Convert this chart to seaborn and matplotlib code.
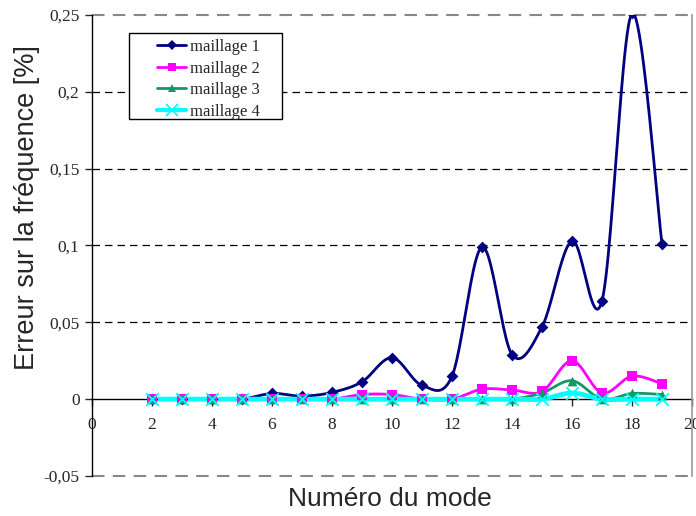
import numpy as np
import pandas as pd
import matplotlib
matplotlib.use("Agg")
import matplotlib.pyplot as plt
from matplotlib.lines import Line2D
from matplotlib.patches import Rectangle
import seaborn as sns

modes = [2, 3, 4, 5, 6, 7, 8, 9, 10, 11, 12, 13, 14, 15, 16, 17, 18, 19]
maillage1 = [0, 0, 0, 0, 0.0037, 0.002, 0.0044, 0.0113, 0.027, 0.009, 0.015, 0.099, 0.029, 0.047, 0.103, 0.064, 0.251, 0.101]
maillage2 = [0, 0, 0, 0, 0, 0, 0, 0.003, 0.003, 0, 0, 0.0065, 0.006, 0.005, 0.025, 0.004, 0.015, 0.010]
maillage3 = [0, 0, 0, 0, 0, 0, 0, 0, 0, 0, 0, 0, 0, 0.004, 0.012, 0, 0.0037, 0.003]
maillage4 = [0, 0, 0, 0, 0, 0, 0, 0, 0, 0, 0, 0, 0, 0, 0.004, 0, 0, 0]
series_names = ["maillage 1", "maillage 2", "maillage 3", "maillage 4"]
yticks = [-0.05, 0, 0.05, 0.1, 0.15, 0.2, 0.25]
ytick_labels = ["-0,05", "0", "0,05", "0,1", "0,15", "0,2", "0,25"]
xticks = [0, 2, 4, 6, 8, 10, 12, 14, 16, 18, 20]

colors = {"maillage 1": "#000080", "maillage 2": "#FF00FF",
          "maillage 3": "#119966", "maillage 4": "#00FFFF"}
markers = {"maillage 1": "D", "maillage 2": "s", "maillage 3": "^", "maillage 4": "x"}
msizes = {"maillage 1": 6, "maillage 2": 7, "maillage 3": 7, "maillage 4": 9}
lwidths = {"maillage 1": 2.0, "maillage 2": 2.0, "maillage 3": 2.0, "maillage 4": 3.5}

values = [maillage1, maillage2, maillage3, maillage4]
df = pd.DataFrame({
    "mode": modes * 4,
    "err": sum(values, []),
    "serie": sum([[n] * len(modes) for n in series_names], []),
})


def smooth(x, y, n=24):
    # Catmull-Rom rendering of the Excel "smoothed line"
    x = np.asarray(x, float)
    y = np.asarray(y, float)
    px = np.concatenate([[x[0]], x, [x[-1]]])
    py = np.concatenate([[y[0]], y, [y[-1]]])
    xs, ys = [], []
    for i in range(1, len(px) - 2):
        p0, p1, p2, p3 = (np.array([px[j], py[j]]) for j in (i - 1, i, i + 1, i + 2))
        c1 = p1 + (p2 - p0) / 6
        c2 = p2 - (p3 - p1) / 6
        t = np.linspace(0, 1, n, endpoint=(i == len(px) - 3))[:, None]
        b = (1 - t) ** 3 * p1 + 3 * (1 - t) ** 2 * t * c1 + 3 * (1 - t) * t ** 2 * c2 + t ** 3 * p2
        xs.extend(b[:, 0])
        ys.extend(b[:, 1])
    return xs, ys


rows = []
for name, v in zip(series_names, values):
    sx, sy = smooth(modes, v)
    for k, (a, b) in enumerate(zip(sx, sy)):
        rows.append((k, a, b, name))
dense = pd.DataFrame(rows, columns=["k", "mode", "err", "serie"])

sns.set_style("white")
plt.rcParams["font.family"] = ["Liberation Serif", "DejaVu Serif"]

fig = plt.figure(figsize=(6.96, 5.16), dpi=100)
ax = fig.add_axes([92 / 696, 1 - 476 / 516, 600 / 696, 461 / 516])

for name in series_names:
    sub = dense[dense.serie == name]
    sns.lineplot(data=sub, x="mode", y="err", color=colors[name], lw=lwidths[name],
                 sort=False, estimator=None, ax=ax, legend=False, zorder=3)
for name in series_names:
    sub = df[df.serie == name]
    kw = dict(edgecolor=colors[name], linewidth=0) if markers[name] != "x" else dict(linewidth=1.3)
    sns.scatterplot(data=sub, x="mode", y="err", color=colors[name], marker=markers[name],
                    s=msizes[name] ** 2, ax=ax, legend=False, zorder=4, **kw)

ax.set_xlim(0, 20)
ax.set_ylim(-0.05, 0.25)
ax.set_yticks(yticks)
ax.set_yticklabels(ytick_labels)
ax.set_xticks(xticks)
ax.set_xticklabels([str(t) for t in xticks])

for yv in [0.05, 0.1, 0.15, 0.2]:
    ax.axhline(yv, color="black", lw=0.9, ls=(0, (6, 4)), zorder=1)
for yv in [0.25, -0.05]:
    ax.axhline(yv, color="#888888", lw=1.5, ls=(0, (6, 4)), zorder=1, clip_on=False)

ax.spines["top"].set_visible(False)
ax.spines["right"].set_color("#999999")
ax.spines["right"].set_linewidth(1.2)
ax.spines["left"].set_color("black")
ax.spines["left"].set_linewidth(1.0)
ax.spines["bottom"].set_position(("data", 0))
ax.spines["bottom"].set_color("black")
ax.spines["bottom"].set_linewidth(1.0)
ax.spines["bottom"].set_zorder(2)

ax.tick_params(axis="y", direction="out", length=5, width=1, labelsize=12.5, pad=4, left=True)
ax.tick_params(axis="x", direction="out", length=5, width=1, labelsize=12.5, pad=8, bottom=True)
for lab in ax.get_xticklabels() + ax.get_yticklabels():
    lab.set_clip_on(False)

ax.set_xlabel("Numéro du mode", family=["Liberation Sans", "DejaVu Sans"], fontsize=19)
ax.set_ylabel("Erreur sur la fréquence [%]", family=["Liberation Sans", "DejaVu Sans"], fontsize=19.5)
ax.xaxis.set_label_coords(0.497, -0.024)
ax.yaxis.set_label_coords(-0.087, 0.583)

# legend box (drawn separately to reproduce the wide Excel padding)
ax.add_patch(Rectangle(((129 - 92) / 600, (476 - 119) / 461), 153 / 600, 86 / 461,
                       transform=ax.transAxes, facecolor="white", edgecolor="black",
                       lw=1.0, zorder=5, clip_on=False))
handles = [Line2D([0], [0], color=colors[n], lw=lwidths[n] if n != "maillage 4" else 3,
                  marker=markers[n], markersize=msizes[n] - 1,
                  markeredgewidth=1.3 if markers[n] == "x" else 0) for n in series_names]
leg = ax.legend(handles, series_names, loc="upper left",
                bbox_to_anchor=((157 - 92) / 600, (476 - 39) / 461),
                borderaxespad=0, frameon=False, handlelength=1.75, handletextpad=0.2,
                labelspacing=0.34, borderpad=0, prop={"family": "Liberation Serif", "size": 12})
leg.set_zorder(6)

fig.savefig("out.png", dpi=100)
